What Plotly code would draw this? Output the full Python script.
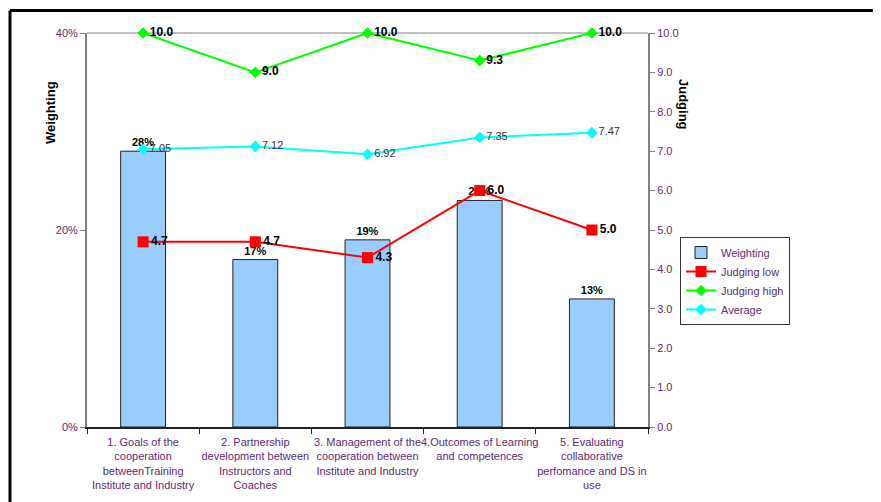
import plotly.graph_objects as go

categories = [
    "1. Goals of the<br>cooperation<br>betweenTraining<br>Institute and Industry",
    "2. Partnership<br>development between<br>Instructors and<br>Coaches",
    "3. Management of the<br>cooperation between<br>Institute and Industry",
    "4.Outcomes of Learning<br>and competences",
    "5. Evaluating<br>collaborative<br>perfomance and DS in<br>use",
]
weighting = [0.28, 0.17, 0.19, 0.23, 0.13]
judging_low = [4.7, 4.7, 4.3, 6.0, 5.0]
judging_high = [10.0, 9.0, 10.0, 9.3, 10.0]
average = [7.05, 7.12, 6.92, 7.35, 7.47]

FONT = "Liberation Sans, Arial, sans-serif"
TICKCOL = "#5b2c6f"

fig = go.Figure()
fig.add_trace(go.Bar(
    x=categories, y=weighting, name="Weighting",
    marker=dict(color="#99CCFF", line=dict(color="#222222", width=1)),
    width=0.4,
    text=[f"<b>{v:.0%}</b>" for v in weighting],
    textposition="outside", textfont=dict(size=11, color="black", family=FONT),
    cliponaxis=False,
))
fig.add_trace(go.Scatter(
    x=categories, y=judging_low, name="Judging low", yaxis="y2",
    mode="lines+markers+text",
    line=dict(color="#FF0000", width=2),
    marker=dict(symbol="square", size=11, color="#FF0000"),
    text=[f"<b>{v:.1f}</b>" for v in judging_low],
    textposition="middle right", textfont=dict(size=12, color="black", family=FONT),
    cliponaxis=False,
))
fig.add_trace(go.Scatter(
    x=categories, y=judging_high, name="Judging high", yaxis="y2",
    mode="lines+markers+text",
    line=dict(color="#00FF00", width=2),
    marker=dict(symbol="diamond", size=9, color="#00FF00"),
    text=[f"<b>{v:.1f}</b>" for v in judging_high],
    textposition="middle right", textfont=dict(size=12, color="black", family=FONT),
    cliponaxis=False,
))
fig.add_trace(go.Scatter(
    x=categories, y=average, name="Average", yaxis="y2",
    mode="lines+markers+text",
    line=dict(color="#00FFFF", width=2),
    marker=dict(symbol="diamond", size=9, color="#00FFFF"),
    text=[f"{v:.2f}" for v in average],
    textposition="middle right", textfont=dict(size=11, color="#333333", family=FONT),
    cliponaxis=False,
))

# page offset (browser body margin)
OFF = 8
W, H = 881 - OFF, 502 - OFF
# plot area in page pixels: x 87..648, y 33..427
L, T = 87 - OFF, 33 - OFF
R = W - (648 - OFF)
B = H - (427 - OFF)
pw, ph = W - L - R, H - T - B

def px(x):
    return (x - OFF - L) / pw

def py(y):
    return 1 - (y - OFF - T) / ph

fig.update_layout(
    width=W, height=H,
    margin=dict(l=L, r=R, t=T, b=B, pad=0, autoexpand=False),
    paper_bgcolor="white", plot_bgcolor="white",
    font=dict(family=FONT, size=11, color=TICKCOL),
    showlegend=True,
    legend=dict(
        x=px(680), y=py(237), xanchor="left", yanchor="top",
        bordercolor="#333333", borderwidth=1, bgcolor="white",
        font=dict(size=11, color=TICKCOL, family=FONT),
        tracegroupgap=0,
    ),
    bargap=0.6,
    xaxis=dict(
        type="category", tickson="boundaries", ticks="outside", ticklen=5,
        tickcolor="#222222", showline=True, linecolor="#222222", linewidth=1.5,
        showgrid=False, tickfont=dict(size=11, color=TICKCOL),
        tickangle=0, automargin=False, ticklabelstandoff=4,
    ),
    yaxis=dict(
        range=[0, 0.4], tickvals=[0, 0.2, 0.4], tickformat=".0%",
        ticks="outside", ticklen=5, tickcolor="#808080",
        showline=True, linecolor="#808080", linewidth=2,
        showgrid=False, zeroline=False, tickfont=dict(size=11, color=TICKCOL),
        automargin=False,
    ),
    yaxis2=dict(
        range=[0, 10], dtick=1, tickformat=".1f", overlaying="y", side="right",
        ticks="outside", ticklen=5, tickcolor="#808080",
        showline=True, linecolor="#808080", linewidth=2,
        showgrid=False, zeroline=False, tickfont=dict(size=11, color=TICKCOL),
        automargin=False,
    ),
    annotations=[
        dict(text="<b>Weighting</b>", x=px(41), y=py(79), xref="paper", yref="paper",
             textangle=-90, showarrow=False, font=dict(size=13, color="black", family=FONT)),
        dict(text="<b>Judging</b>", x=px(693), y=py(77), xref="paper", yref="paper",
             textangle=90, showarrow=False, font=dict(size=13, color="black", family=FONT)),
    ],
    shapes=[
        dict(type="line", xref="paper", yref="paper", x0=0, x1=1, y0=1, y1=1,
             line=dict(color="#808080", width=1), layer="below"),
        dict(type="line", xref="paper", yref="paper", x0=px(10), x1=px(900),
             y0=py(10.5), y1=py(10.5), line=dict(color="black", width=3)),
        dict(type="line", xref="paper", yref="paper", x0=px(10), x1=px(10),
             y0=py(10.5), y1=py(520), line=dict(color="black", width=3)),
    ],
)

fig.write_html("out.html")
